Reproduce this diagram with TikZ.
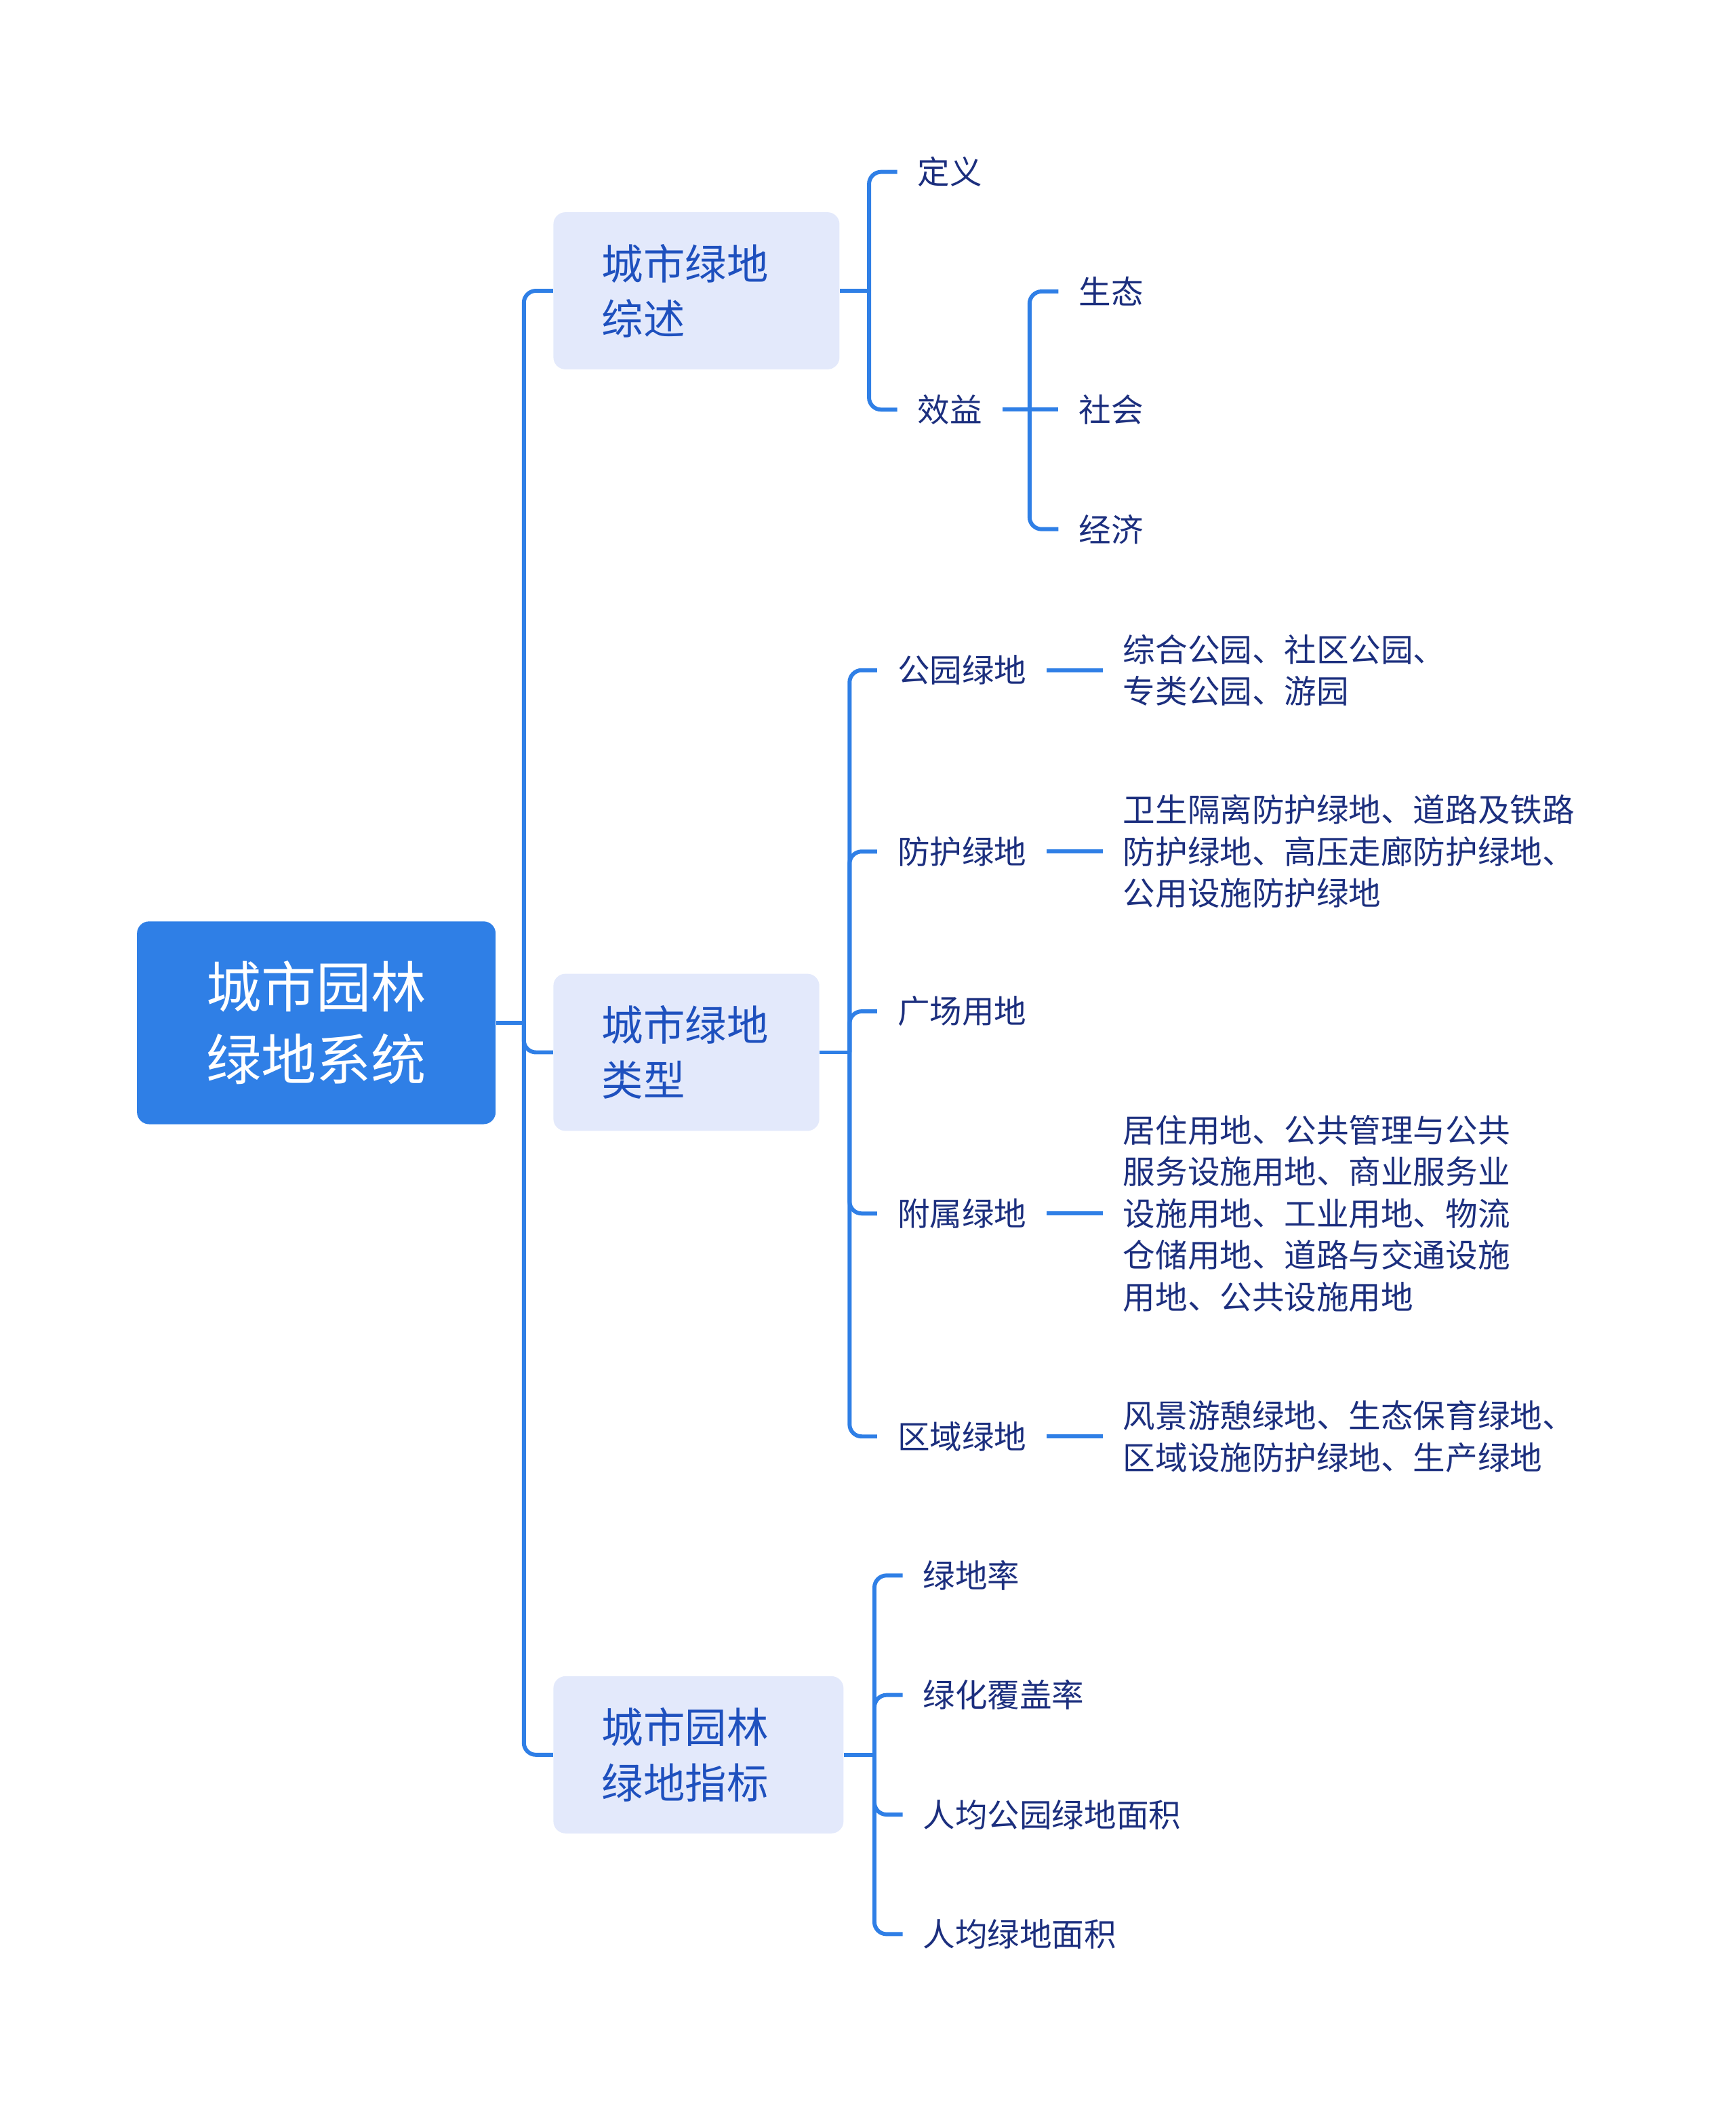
\documentclass[tikz,border=0pt]{standalone}
\usepackage{fontspec}
\setmainfont{Noto Sans CJK SC}

\definecolor{linkblue}{HTML}{2F7FE6}
\definecolor{boxfill}{HTML}{E3E9FB}
\definecolor{boxtext}{HTML}{1E50BE}
\definecolor{leaftext}{HTML}{1C2F7E}

\begin{document}
\begin{tikzpicture}[x=1pt, y=-1pt,
    rootbox/.style={fill=linkblue, rounded corners=9pt, text=white, align=center,
        minimum width=267pt, minimum height=151pt, font=\fontsize{41pt}{54pt}\selectfont},
    topicbox/.style={fill=boxfill, rounded corners=9pt, text=boxtext, align=left,
        inner xsep=36pt, minimum height=117pt, font=\fontsize{31pt}{41pt}\selectfont},
    leaf/.style={anchor=west, text=leaftext, align=left, inner xsep=15pt, inner ysep=2pt,
        font=\fontsize{24pt}{31pt}\selectfont},
    link/.style={draw=linkblue, line width=3pt, rounded corners=9pt}
]

    % Fix the page to the size of the reference
    \useasboundingbox (0,0) rectangle (1292,1568);

    % Root and the three topics
    \node[rootbox] (root) at (235.5,761.5) {城市园林\\绿地系统};
    \node[topicbox, text width=141pt] (summary) at (518.5,216.5) {城市绿地\\综述};
    \node[topicbox, text width=126pt] (types) at (511,783.5) {城市绿地\\类型};
    \node[topicbox, text width=144pt] (index) at (520,1306.5) {城市园林\\绿地指标};

    % Junction points where the branches split
    \coordinate (rj) at (390,761.5);
    \coordinate (sj) at (647,216.5);
    \coordinate (bj) at (766.5,305);
    \coordinate (tj) at (632.5,783.5);
    \coordinate (ij) at (651,1306.5);

    % Root to topics
    \draw[link] (root.east) -- (rj);
    \draw[link] (rj) |- (summary.west);
    \draw[link] (rj) |- (types.west);
    \draw[link] (rj) |- (index.west);

    % Overview branch
    \node[leaf] (define) at (668,128) {定义};
    \node[leaf] (benefit) at (668,305) {效益};
    \node[leaf] (ecology) at (788,217) {生态};
    \node[leaf] (society) at (788,305) {社会};
    \node[leaf] (economy) at (788,394) {经济};

    \draw[link] (summary.east) -- (sj);
    \draw[link] (sj) |- (define.west);
    \draw[link] (sj) |- (benefit.west);
    \draw[link] (benefit.east) -- (society.west);
    \draw[link] (bj) |- (ecology.west);
    \draw[link] (bj) |- (economy.west);

    % Types branch, each with its list of examples
    \node[leaf] (park) at (653,499) {公园绿地};
    \node[leaf] (guard) at (653,634) {防护绿地};
    \node[leaf] (square) at (653,753) {广场用地};
    \node[leaf] (attach) at (653,903.5) {附属绿地};
    \node[leaf] (region) at (653,1069.5) {区域绿地};

    \node[leaf] (parkd) at (821,499) {综合公园、社区公园、\\专类公园、游园};
    \node[leaf] (guardd) at (821,634) {卫生隔离防护绿地、道路及铁路\\防护绿地、高压走廊防护绿地、\\公用设施防护绿地};
    \node[leaf] (attachd) at (821,903.5) {居住用地、公共管理与公共\\服务设施用地、商业服务业\\设施用地、工业用地、物流\\仓储用地、道路与交通设施\\用地、公共设施用地};
    \node[leaf] (regiond) at (821,1069.5) {风景游憩绿地、生态保育绿地、\\区域设施防护绿地、生产绿地};

    \draw[link] (types.east) -- (tj);
    \foreach \n in {park,guard,square,attach,region}
        \draw[link] (tj) |- (\n.west);
    \foreach \n in {park,guard,attach,region}
        \draw[link] (\n.east) -- (\n d.west);

    % Index branch
    \node[leaf] (rate) at (672,1173) {绿地率};
    \node[leaf] (cover) at (672,1262) {绿化覆盖率};
    \node[leaf] (perpark) at (672,1351) {人均公园绿地面积};
    \node[leaf] (pergreen) at (672,1440) {人均绿地面积};

    \draw[link] (index.east) -- (ij);
    \foreach \n in {rate,cover,perpark,pergreen}
        \draw[link] (ij) |- (\n.west);

\end{tikzpicture}
\end{document}
